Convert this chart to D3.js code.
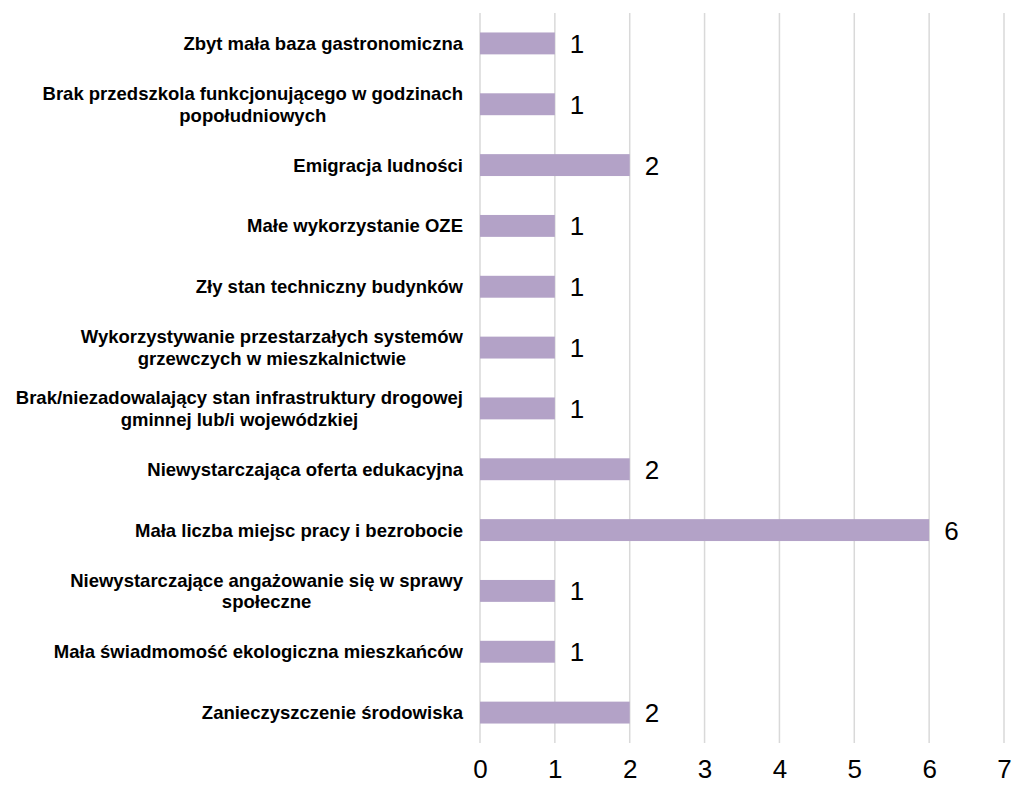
<!DOCTYPE html>
<html>
<head>
<meta charset="utf-8">
<script src="https://cdn.jsdelivr.net/npm/d3@7"></script>
<style>
	body { margin: 0; background: #fff; }
	svg { display: block; }
</style>
</head>
<body>
<div id="chart"></div>
<script>
// Chart data, top to bottom ("\n" = label line break)
const CATEGORIES = [
	"Zbyt mała baza gastronomiczna",
	"Brak przedszkola funkcjonującego w godzinach\npopołudniowych",
	"Emigracja ludności",
	"Małe wykorzystanie OZE",
	"Zły stan techniczny budynków",
	"Wykorzystywanie przestarzałych systemów\ngrzewczych w mieszkalnictwie",
	"Brak/niezadowalający stan infrastruktury drogowej\ngminnej lub/i wojewódzkiej",
	"Niewystarczająca oferta edukacyjna",
	"Mała liczba miejsc pracy i bezrobocie",
	"Niewystarczające angażowanie się w sprawy\nspołeczne",
	"Mała świadmomość ekologiczna mieszkańców",
	"Zanieczyszczenie środowiska",
];
const VALUES = [1, 1, 2, 1, 1, 1, 1, 2, 6, 1, 1, 2];
const X_TICKS = [0, 1, 2, 3, 4, 5, 6, 7];

const BAR_COLOR = "#B3A2C7";
const GRID_COLOR = "#D9D9D9";

var width = 1012;
var height = 785;
var margin = {
	'top': 13,
	'bottom': 42,
	'left': 480,
	'right': 8,
};

var svg = d3.select('#chart').append('svg')
	.attr('width', width)
	.attr('height', height)
	.style('font-family', 'Arial, "Liberation Sans", sans-serif');

// Scales
var scaleX = d3.scaleLinear()
	.domain([0, 7])
	.range([margin.left, width - margin.right]);

var scaleY = d3.scaleBand()
	.domain(d3.range(CATEGORIES.length))
	.range([margin.top, height - margin.bottom])
	.paddingInner(0.64)
	.paddingOuter(0.32);

// Vertical gridlines
svg.append('g')
	.attr('class', 'graph-grid')
	.selectAll('line')
	.data(X_TICKS)
	.join('line')
	.attr('x1', d => scaleX(d))
	.attr('x2', d => scaleX(d))
	.attr('y1', margin.top)
	.attr('y2', height - margin.bottom)
	.attr('stroke', GRID_COLOR)
	.attr('stroke-width', 1.5);

// Bars
svg.append('g')
	.selectAll('rect')
	.data(VALUES)
	.join('rect')
	.attr('x', scaleX(0))
	.attr('y', (d, i) => scaleY(i))
	.attr('width', d => scaleX(d) - scaleX(0))
	.attr('height', scaleY.bandwidth())
	.attr('fill', BAR_COLOR);

// Value labels
svg.append('g')
	.selectAll('text')
	.data(VALUES)
	.join('text')
	.attr('x', d => scaleX(d) + 15)
	.attr('y', (d, i) => scaleY(i) + scaleY.bandwidth() / 2 + 9.5)
	.attr('font-size', '26px')
	.attr('fill', '#000')
	.text(d => d);

// X axis tick labels
var xAxis = d3.axisBottom(scaleX)
	.tickValues(X_TICKS)
	.tickSize(0)
	.tickPadding(0)
	.tickFormat(d3.format('d'));

var gx = svg.append('g')
	.attr('id', 'x-axis')
	.attr('transform', 'translate(0,' + (height - margin.bottom) + ')')
	.call(xAxis);
gx.select('.domain').remove();
gx.selectAll('text')
	.attr('font-size', '26px')
	.attr('font-family', 'Arial, "Liberation Sans", sans-serif')
	.attr('fill', '#000')
	.attr('dy', null)
	.attr('y', 35);

// Category labels, wrapped block right-aligned, lines centred inside it
var labelRight = 463;
var lineH = 21.5;
var labels = svg.append('g').attr('class', 'cat-labels');

CATEGORIES.forEach(function(name, i) {
	var lines = name.split('\n');
	var cy = scaleY(i) + scaleY.bandwidth() / 2;
	var t = labels.append('text')
		.attr('font-size', '18.5px')
		.attr('font-weight', 'bold')
		.attr('fill', '#000')
		.attr('text-anchor', 'middle');
	var spans = lines.map(function(l, j) {
		return t.append('tspan')
			.attr('y', cy + 6.5 + (j - (lines.length - 1) / 2) * lineH)
			.text(l);
	});
	var maxW = d3.max(spans, s => s.node().getComputedTextLength());
	spans.forEach(s => s.attr('x', labelRight - maxW / 2));
});
</script>
</body>
</html>
